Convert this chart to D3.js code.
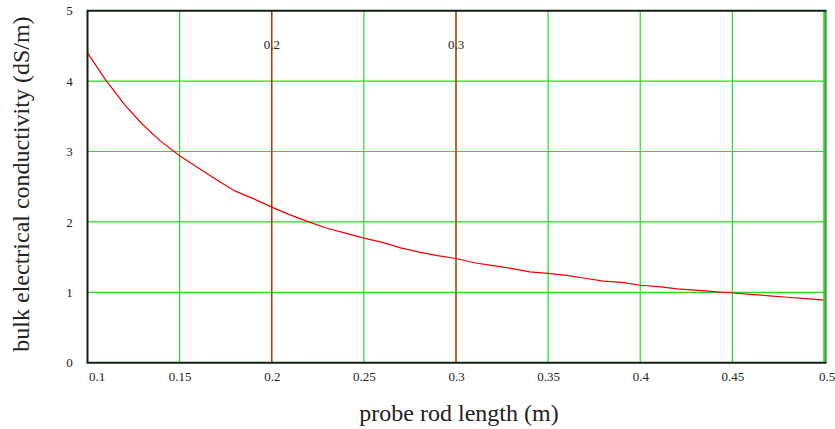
<!DOCTYPE html>
<html><head><meta charset="utf-8">
<script src="https://cdn.jsdelivr.net/npm/d3@7"></script>
<style>body{margin:0;background:#fff}svg{display:block}</style>
</head><body><svg id="c" width="835" height="429"></svg>
<script>
const rodLength = [0.10,0.11,0.12,0.13,0.14,0.15,0.16,0.17,0.18,0.19,0.20,0.21,0.22,0.23,0.24,0.25,0.26,0.27,0.28,0.29,0.30,0.31,0.32,0.33,0.34,0.35,0.36,0.37,0.38,0.39,0.40,0.41,0.42,0.43,0.44,0.45,0.46,0.47,0.48,0.49,0.50];
const conductivity = [4.40,4.01,3.67,3.38,3.14,2.94,2.77,2.60,2.44,2.33,2.21,2.10,2.00,1.91,1.84,1.77,1.71,1.63,1.57,1.52,1.48,1.42,1.38,1.34,1.29,1.27,1.24,1.20,1.16,1.14,1.10,1.08,1.05,1.03,1.01,0.99,0.97,0.95,0.93,0.91,0.89];
const xTicks = [0.1,0.15,0.2,0.25,0.3,0.35,0.4,0.45,0.5];
const xTickLabels = ["0.1","0.15","0.2","0.25","0.3","0.35","0.4","0.45","0.5"];
const yTicks = [0,1,2,3,4,5];
const markers = [0.2,0.3];
const markerLabels = ["0.2","0.3"];

const FONT = "'Liberation Serif','DejaVu Serif',serif";
const svg = d3.select("#c");
const x = d3.scaleLinear().domain([0.1,0.5]).range([87.5,824.5]);
const y = d3.scaleLinear().domain([0,5]).range([362.7,10.7]);

// grid
svg.append("g").selectAll("line").data(xTicks.slice(1,-1)).join("line")
  .attr("x1",d=>x(d)).attr("x2",d=>x(d)).attr("y1",y(0)).attr("y2",y(5))
  .attr("stroke","#22dd22").attr("stroke-width",1.2);
svg.append("g").selectAll("line").data(yTicks.slice(1,-1)).join("line")
  .attr("y1",d=>y(d)).attr("y2",d=>y(d)).attr("x1",x(0.1)).attr("x2",x(0.5))
  .attr("stroke","#22dd22").attr("stroke-width",1.2);

// markers
svg.append("g").selectAll("line").data(markers).join("line")
  .attr("x1",d=>x(d)).attr("x2",d=>x(d)).attr("y1",y(0)).attr("y2",y(5))
  .attr("stroke","#dd1100").attr("stroke-width",1.2);
svg.append("g").selectAll("text").data(markers).join("text")
  .attr("x",d=>x(d)).attr("y",49).attr("text-anchor","middle")
  .style("font-family",FONT).style("font-size","13px").style("fill","#222")
  .text((d,i)=>markerLabels[i]);

// curve
const line = d3.line().x((d,i)=>x(rodLength[i])).y(d=>y(d));
svg.append("path").datum(conductivity).attr("d",line)
  .attr("fill","none").attr("stroke","#ee0000").attr("stroke-width",1.2);

// frame
svg.append("line").attr("x1",x(0.5)).attr("x2",x(0.5)).attr("y1",y(0)).attr("y2",y(5)).attr("stroke","#22dd22").attr("stroke-width",2.5);
svg.append("line").attr("x1",x(0.5)+1.5).attr("x2",x(0.5)+1.5).attr("y1",y(0)).attr("y2",y(5)).attr("stroke","#335533").attr("stroke-width",1);
svg.append("path").attr("d",`M${x(0.5)+2},${y(5)}H${x(0.1)}V${y(0)}H${x(0.5)+2}`)
  .attr("fill","none").attr("stroke","#112211").attr("stroke-width",2);

// axes labels
const xAxis = d3.axisBottom(x).tickValues(xTicks).tickSize(0).tickFormat((d,i)=>xTickLabels[i]);
const gx = svg.append("g").attr("transform",`translate(0,${y(0)+6})`).call(xAxis);
gx.select(".domain").remove();
gx.selectAll("text").style("font-family",FONT).style("font-size","13px").style("fill","#222")
  .attr("dx",(d,i)=>i===0?9:(i===xTicks.length-1?2:0));
const yAxis = d3.axisLeft(y).tickValues(yTicks).tickSize(0).tickFormat(d3.format("d"));
const gy = svg.append("g").attr("transform",`translate(${x(0.1)-15},0)`).call(yAxis);
gy.select(".domain").remove();
gy.selectAll("text").style("font-family",FONT).style("font-size","13px").style("fill","#222").attr("text-anchor","middle");

svg.append("text").attr("x",459).attr("y",421).attr("text-anchor","middle")
  .style("font-family",FONT).style("font-size","24px").style("fill","#222").text("probe rod length (m)");
svg.append("text").attr("transform","translate(29,184) rotate(-90)").attr("text-anchor","middle")
  .style("font-family",FONT).style("font-size","24px").style("fill","#222").text("bulk electrical conductivity (dS/m)");
</script></body></html>
